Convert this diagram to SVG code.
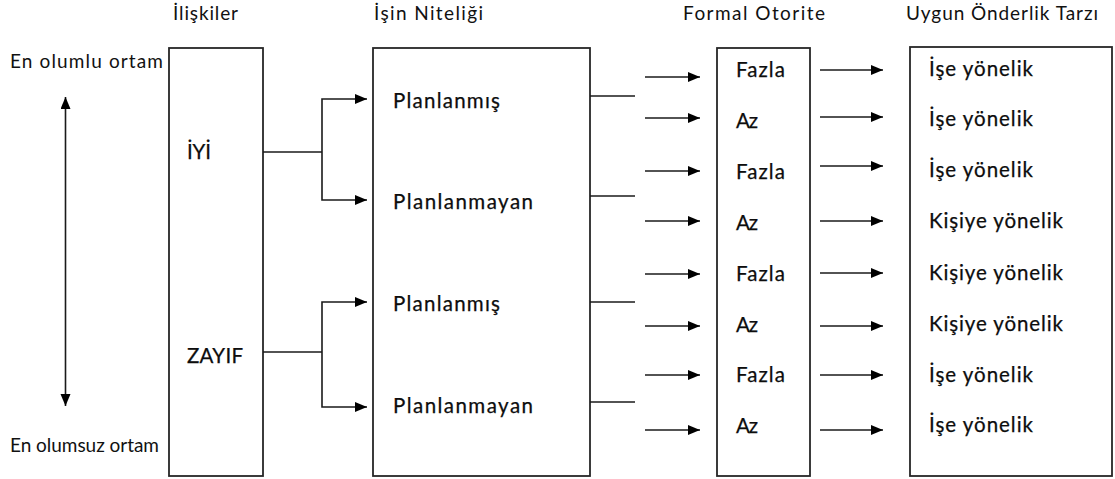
<svg xmlns="http://www.w3.org/2000/svg" width="1115" height="479" viewBox="0 0 1115 479">
  <style>
    .box { fill: #ffffff; stroke: #262626; stroke-width: 1.8; }
    .t { font-family: Lato, "Liberation Sans", sans-serif; font-size: 20.5px; fill: #0d0d0d; stroke: #0d0d0d; stroke-width: 0.25; }
    .h { font-size: 19px; stroke: none; fill: #111111; }
    .ln { stroke: #1a1a1a; stroke-width: 1.6; fill: none; }
    .arr { stroke: #1a1a1a; stroke-width: 1.6; fill: none; marker-end: url(#head); }
  </style>
  <defs>
    <marker id="head" markerUnits="userSpaceOnUse" markerWidth="13" markerHeight="11" refX="12" refY="5" orient="auto-start-reverse">
      <path d="M0,0 L12,5 L0,10 Z" fill="#000000"/>
    </marker>
  </defs>
  <rect width="1115" height="479" fill="#ffffff"/>

  <!-- column headings -->
  <g id="headings">
    <text class="t h" x="173" y="20" textLength="65">İlişkiler</text>
    <text class="t h" x="374" y="20" textLength="109">İşin Niteliği</text>
    <text class="t h" x="683" y="20" textLength="142">Formal Otorite</text>
    <text class="t h" x="906" y="20" textLength="192">Uygun Önderlik Tarzı</text>
  </g>

  <!-- environment scale -->
  <g id="scale">
    <text class="t h" x="10" y="68" textLength="153">En olumlu ortam</text>
    <text class="t h" x="10" y="452" textLength="149">En olumsuz ortam</text>
    <line class="ln" x1="65.5" y1="97" x2="65.5" y2="406" marker-start="url(#head)" marker-end="url(#head)"/>
  </g>

  <!-- relations -->
  <g id="iliskiler">
    <rect class="box" x="169" y="48" width="94" height="428"/>
    <text class="t" x="187" y="159" textLength="24">İYİ</text>
    <text class="t" x="187" y="363" textLength="56">ZAYIF</text>
  </g>

  <!-- nature of the task -->
  <g id="isin-niteligi">
    <rect class="box" x="373" y="48" width="217" height="428"/>
    <text class="t" x="393" y="108" textLength="107">Planlanmış</text>
    <text class="t" x="393" y="209" textLength="140">Planlanmayan</text>
    <text class="t" x="393" y="311" textLength="107">Planlanmış</text>
    <text class="t" x="393" y="413" textLength="140">Planlanmayan</text>
  </g>

  <!-- formal authority -->
  <g id="formal-otorite">
    <rect class="box" x="717" y="48" width="93" height="428"/>
    <text class="t" x="736" y="77" textLength="49">Fazla</text>
    <text class="t" x="736" y="128" textLength="22">Az</text>
    <text class="t" x="736" y="179" textLength="49">Fazla</text>
    <text class="t" x="736" y="230" textLength="22">Az</text>
    <text class="t" x="736" y="281" textLength="49">Fazla</text>
    <text class="t" x="736" y="332" textLength="22">Az</text>
    <text class="t" x="736" y="382" textLength="49">Fazla</text>
    <text class="t" x="736" y="433" textLength="22">Az</text>
  </g>

  <!-- leadership style -->
  <g id="onderlik-tarzi">
    <rect class="box" x="910" y="47" width="202" height="429"/>
    <text class="t" x="929" y="76" textLength="104">İşe yönelik</text>
    <text class="t" x="929" y="126" textLength="104">İşe yönelik</text>
    <text class="t" x="929" y="177" textLength="104">İşe yönelik</text>
    <text class="t" x="929" y="228" textLength="134">Kişiye yönelik</text>
    <text class="t" x="929" y="280" textLength="134">Kişiye yönelik</text>
    <text class="t" x="929" y="331" textLength="134">Kişiye yönelik</text>
    <text class="t" x="929" y="382" textLength="104">İşe yönelik</text>
    <text class="t" x="929" y="432" textLength="104">İşe yönelik</text>
  </g>

  <!-- connectors -->
  <g id="connectors">
    <!-- relations to task nature -->
    <path class="ln" d="M263,152 H322"/>
    <path class="arr" d="M322,152 V99 H367"/>
    <path class="arr" d="M322,152 V200 H367"/>
    <path class="ln" d="M263,352 H322"/>
    <path class="arr" d="M322,352 V302 H367"/>
    <path class="arr" d="M322,352 V407 H367"/>

    <!-- task nature stubs -->
    <path class="ln" d="M590,96 H635"/>
    <path class="ln" d="M590,196 H635"/>
    <path class="ln" d="M590,302 H635"/>
    <path class="ln" d="M590,402 H635"/>

    <!-- into formal authority -->
    <path class="arr" d="M645,77 H700"/>
    <path class="arr" d="M645,118 H700"/>
    <path class="arr" d="M645,171 H700"/>
    <path class="arr" d="M645,221 H700"/>
    <path class="arr" d="M645,274 H700"/>
    <path class="arr" d="M645,326 H700"/>
    <path class="arr" d="M645,375 H700"/>
    <path class="arr" d="M645,430 H700"/>

    <!-- into leadership style -->
    <path class="arr" d="M820,70 H883"/>
    <path class="arr" d="M820,117 H883"/>
    <path class="arr" d="M820,166 H883"/>
    <path class="arr" d="M820,221 H883"/>
    <path class="arr" d="M820,273 H883"/>
    <path class="arr" d="M820,326 H883"/>
    <path class="arr" d="M820,375 H883"/>
    <path class="arr" d="M820,430 H883"/>
  </g>
</svg>
